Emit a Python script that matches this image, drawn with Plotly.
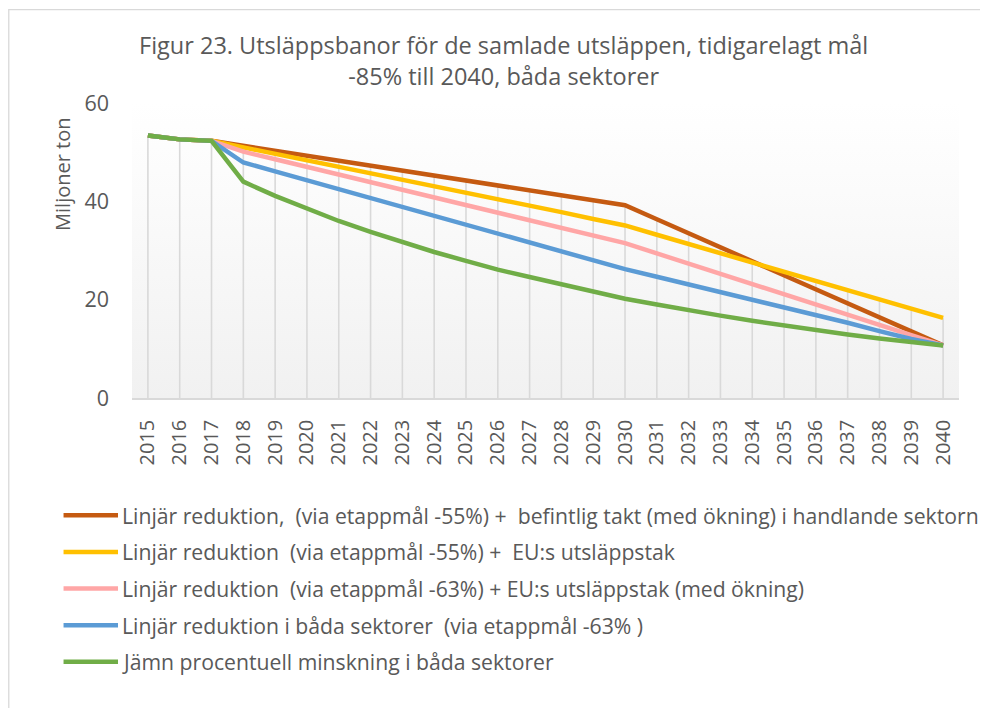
import plotly.graph_objects as go

# ---------------- data ----------------
years = list(range(2015, 2041))

brown = [53.4, 52.6, 52.3, 51.3, 50.3, 49.3, 48.3, 47.3, 46.3, 45.3, 44.2, 43.2, 42.2,
         41.2, 40.2, 39.2, 36.35, 33.5, 30.65, 27.8, 24.95, 22.1, 19.25, 16.4, 13.55, 10.7]
yellow = [53.4, 52.6, 52.3, 51.0, 49.7, 48.3, 47.0, 45.7, 44.4, 43.1, 41.7, 40.4, 39.1,
          37.8, 36.4, 35.1, 33.2, 31.3, 29.5, 27.6, 25.7, 23.8, 21.9, 20.1, 18.2, 16.3]
pink = [53.4, 52.6, 52.3, 50.1, 48.55, 47.0, 45.45, 43.9, 42.35, 40.8, 39.25, 37.7, 36.15,
        34.6, 33.05, 31.5, 29.4, 27.3, 25.2, 23.1, 21.0, 18.9, 16.8, 14.7, 12.7, 10.7]
blue = [53.4, 52.6, 52.3, 47.9, 46.1, 44.3, 42.5, 40.7, 38.9, 37.0, 35.2, 33.4, 31.6,
        29.8, 28.0, 26.2, 24.65, 23.1, 21.6, 20.05, 18.5, 16.9, 15.3, 13.6, 12.0, 10.7]
green = [53.4, 52.6, 52.3, 44.0, 41.1, 38.5, 36.0, 33.8, 31.7, 29.7, 27.9, 26.1, 24.6,
         23.1, 21.6, 20.2, 19.0, 17.8, 16.75, 15.7, 14.7, 13.8, 12.9, 12.1, 11.4, 10.7]

series_names = [
    "Linjär reduktion,  (via etappmål -55%) +  befintlig takt (med ökning) i handlande sektorn",
    "Linjär reduktion  (via etappmål -55%) +  EU:s utsläppstak",
    "Linjär reduktion  (via etappmål -63%) + EU:s utsläppstak (med ökning)",
    "Linjär reduktion i båda sektorer  (via etappmål -63% )",
    "Jämn procentuell minskning i båda sektorer",
]
series_values = [brown, yellow, pink, blue, green]
series_colors = ["#C55A11", "#FFC000", "#FFA6A6", "#5B9BD5", "#70AD47"]

y_ticks = [0, 20, 40, 60]
y_range = [0, 60]
title_text = ("Figur 23. Utsläppsbanor för de samlade utsläppen, tidigarelagt mål"
              "<br>-85% till 2040, båda sektorer")
y_title = "Miljoner ton"

# ---------------- layout geometry (page pixel coords, page has 8px body margin) ----------------
OFF = 8
W, H = 980, 700
PLOT_L, PLOT_R, PLOT_T, PLOT_B = 132, 959.5, 103, 398.5  # page coords
ML = PLOT_L - OFF
MR = W - (PLOT_R - OFF)
MT = PLOT_T - OFF
MB = H - (PLOT_B - OFF)
PW = W - ML - MR
PH = H - MT - MB


def px2x(px):
    return (px - PLOT_L) / PW


def px2y(py):
    return (PLOT_B - py) / PH


TXT = "#595959"
GRID = "#D9D9D9"
FONT = "Open Sans"

fig = go.Figure()

# plot-area gradient background
x0, x1 = years[0] - 0.5, years[-1] + 0.5
fig.add_trace(go.Scatter(
    x=[x0, x1, x1, x0, x0], y=[y_range[0], y_range[0], y_range[1], y_range[1], y_range[0]],
    mode="lines", line=dict(width=0), fill="toself",
    fillgradient=dict(type="vertical",
                      colorscale=[[0, "#F1F1F1"], [0.7, "#FBFBFB"], [1, "#FFFFFF"]]),
    hoverinfo="skip", showlegend=False))

# drop lines (from axis up to highest series value in each year)
dx, dy = [], []
for i, yr in enumerate(years):
    top = max(s[i] for s in series_values)
    dx += [yr, yr, None]
    dy += [0, top, None]
fig.add_trace(go.Scatter(x=dx, y=dy, mode="lines", line=dict(color=GRID, width=1.6),
                         hoverinfo="skip", showlegend=False))

for name, vals, col in zip(series_names, series_values, series_colors):
    fig.add_trace(go.Scatter(x=years, y=vals, name=name, mode="lines",
                             line=dict(color=col, width=4.5), showlegend=False))

shapes = []
annotations = []

# chart border
shapes.append(dict(type="rect", xref="paper", yref="paper",
                   x0=px2x(8.7), x1=px2x(1300), y0=px2y(1000), y1=px2y(9.5),
                   line=dict(color=GRID, width=1.3), fillcolor="rgba(0,0,0,0)", layer="below"))

# title
annotations.append(dict(xref="paper", yref="paper", x=px2x(504), y=px2y(60),
                        xanchor="center", yanchor="middle", showarrow=False,
                        text=title_text, font=dict(family=FONT, size=23.5, color=TXT)))

# manual legend
leg_y0, leg_dy = 516, 36.7
for i, (name, col) in enumerate(zip(series_names, series_colors)):
    yy = px2y(leg_y0 + i * leg_dy)
    shapes.append(dict(type="line", xref="paper", yref="paper",
                       x0=px2x(63.5), x1=px2x(118), y0=yy, y1=yy,
                       line=dict(color=col, width=4.5)))
    annotations.append(dict(xref="paper", yref="paper", x=px2x(120), y=yy,
                            xanchor="left", yanchor="middle", showarrow=False,
                            text=name, font=dict(family=FONT, size=21.2, color=TXT)))

# y axis title
annotations.append(dict(xref="paper", yref="paper", x=px2x(63), y=px2y(175),
                        xanchor="center", yanchor="middle", showarrow=False, textangle=-90,
                        text=y_title, font=dict(family=FONT, size=20, color=TXT)))

fig.update_layout(
    width=W, height=H,
    margin=dict(l=ML, r=MR, t=MT, b=MB, pad=0),
    paper_bgcolor="white", plot_bgcolor="rgba(0,0,0,0)",
    shapes=shapes, annotations=annotations,
    xaxis=dict(range=[x0, x1], tickvals=years, ticktext=[str(y) for y in years],
               tickangle=-90, showgrid=False, zeroline=False,
               showline=True, linecolor=GRID, linewidth=1.6,
               ticks="", ticklabelstandoff=12,
               tickfont=dict(family=FONT, size=20, color=TXT)),
    yaxis=dict(range=y_range, tickvals=y_ticks, showgrid=False, zeroline=False,
               showline=False, ticks="", ticklabelstandoff=22,
               tickfont=dict(family=FONT, size=21.5, color=TXT)),
)

fig.write_html("out.html")
